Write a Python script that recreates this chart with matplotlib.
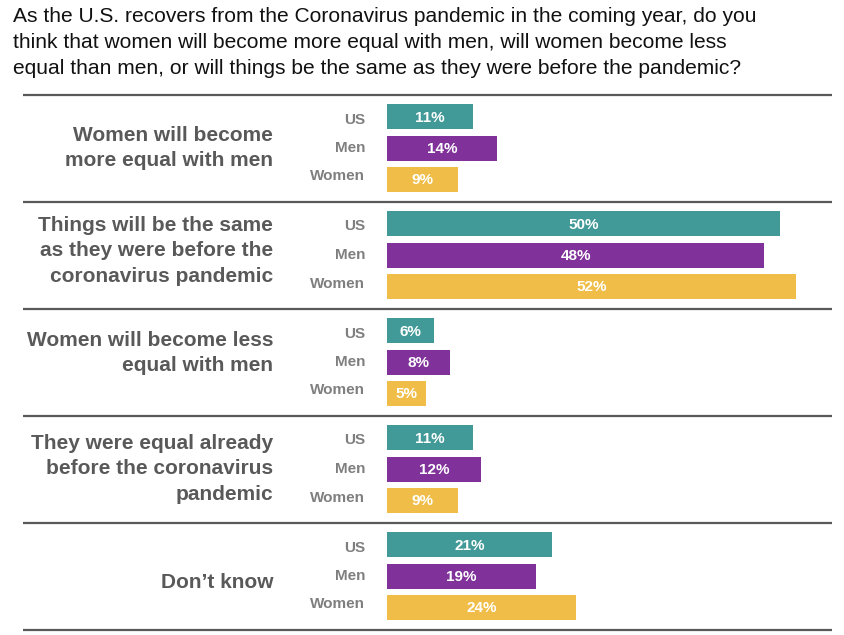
import matplotlib
matplotlib.use("Agg")
import matplotlib.pyplot as plt

# ---------------- data ----------------
title = ("As the U.S. recovers from the Coronavirus pandemic in the coming year, do you\n"
         "think that women will become more equal with men, will women become less\n"
         "equal than men, or will things be the same as they were before the pandemic?")
categories = ["Women will become\nmore equal with men",
              "Things will be the same\nas they were before the\ncoronavirus pandemic",
              "Women will become less\nequal with men",
              "They were equal already\nbefore the coronavirus\npandemic",
              "Don\u2019t know"]
groups = ["US", "Men", "Women"]
us = [11, 50, 6, 11, 21]
men = [14, 48, 8, 12, 19]
women = [9, 52, 5, 9, 24]

# ---------------- style / layout ----------------
colors = ["#429A98", "#80319A", "#F0BE48"]
W, H = 844, 635
X0, PX = 387, 7.86            # bar origin (px) and px per percent
GROUP0, GROUP_STEP = 148, 107
BAR_STEP, BAR_H, LABEL_STEP = 31.3, 25, 28.5
cat_dy = [0, -4, -9, 0, 6]
FONT = "Liberation Sans"

def px2x(px):
    return (px - X0) / PX

fig = plt.figure(figsize=(W / 100, H / 100), dpi=100)
ax = fig.add_axes([0, 0, 1, 1])
ax.set_xlim(px2x(0), px2x(W))
ax.set_ylim(H, 0)
ax.axis("off")

series = [us, men, women]
for g, cat in enumerate(categories):
    yc = GROUP0 + g * GROUP_STEP
    ax.text(px2x(273), yc + cat_dy[g], cat, ha="right", va="center",
            fontsize=15, fontweight="bold", color="#595959", family=FONT,
            linespacing=1.42)
    for r, (name, vals, col) in enumerate(zip(groups, series, colors)):
        yb = yc + (r - 1) * BAR_STEP
        ax.barh(yb, vals[g], height=BAR_H, left=0, color=col, linewidth=0)
        ax.text(vals[g] / 2, yb + 1, f"{vals[g]}%", ha="center", va="center",
                fontsize=11, fontweight="bold", color="white", family=FONT)
        ax.text(px2x(365), yc + (r - 1) * LABEL_STEP, name, ha="right", va="center",
                fontsize=11, fontweight="bold", color="#7F7F7F", family=FONT)

for g in range(len(categories) + 1):
    y = GROUP0 - GROUP_STEP / 2 + g * GROUP_STEP
    ax.hlines(y, px2x(23), px2x(832), color="#595959", linewidth=1.6)

fig.text(13 / W, 1 - 7 / H, title, ha="left", va="top", fontsize=15.1,
         color="#111111", family=FONT, linespacing=1.45)

fig.savefig("out.png", dpi=100)
